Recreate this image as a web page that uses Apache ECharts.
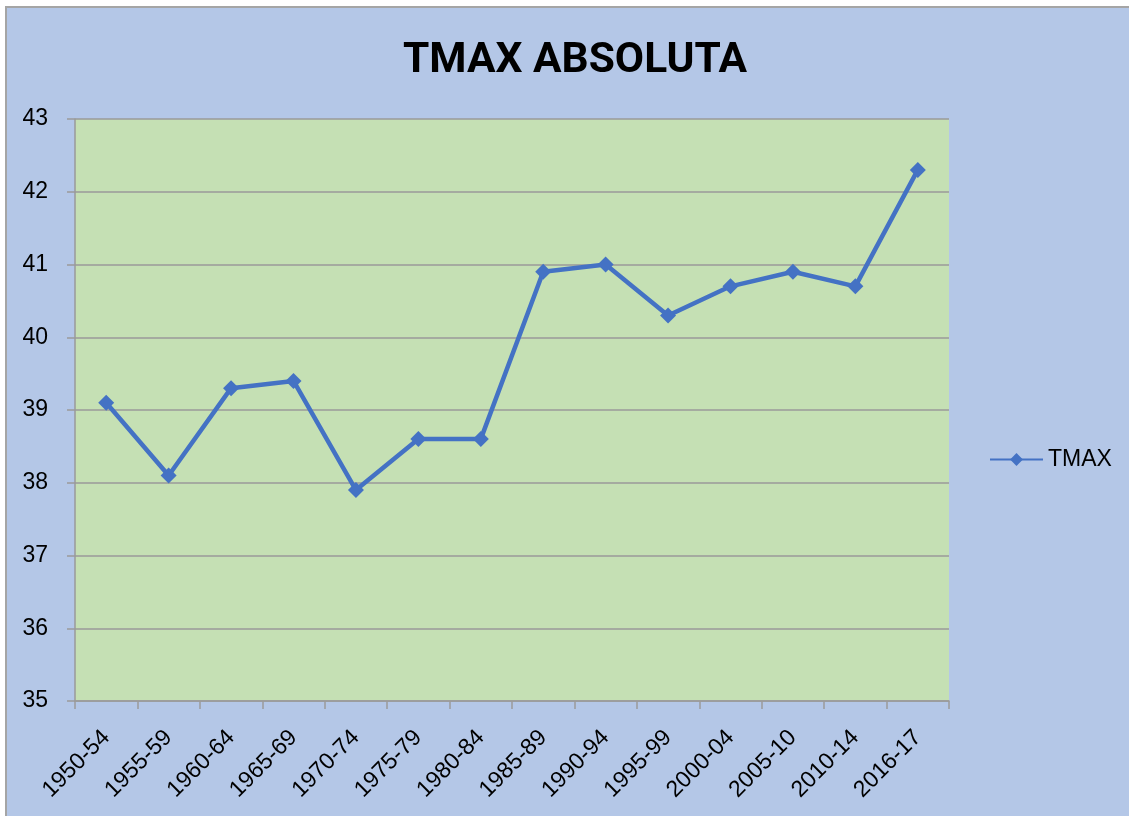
<!DOCTYPE html>
<html>
<head>
<meta charset="utf-8">
<title>TMAX ABSOLUTA</title>
<script src="https://cdn.jsdelivr.net/npm/echarts@6/dist/echarts.min.js"></script>
<style>
  html, body { margin: 0; padding: 0; background: #ffffff; }
  .frame {
    position: absolute; left: 5px; top: 6px; width: 1130px; height: 820px;
    background: #b4c7e7; border-top: 2px solid #a5a5a5; border-left: 2px solid #a5a5a5;
  }
  #chart { position: absolute; left: 0; top: 0; width: 1129px; height: 816px; }
</style>
</head>
<body>
<div class="frame"></div>
<div id="chart"></div>
<script>
// periodos (eje x)
const periods = ["1950-54", "1955-59", "1960-64", "1965-69", "1970-74", "1975-79", "1980-84",
  "1985-89", "1990-94", "1995-99", "2000-04", "2005-10", "2010-14", "2016-17"];
// temperatura máxima absoluta
const tmax = [39.1, 38.1, 39.3, 39.4, 37.9, 38.6, 38.6, 40.9, 41.0, 40.3, 40.7, 40.9, 40.7, 42.3];
// escala del eje y
const yMin = 35;
const yMax = 43;
const yStep = 1;

const font = "'Liberation Sans', Arial, sans-serif";
const chart = echarts.init(document.getElementById("chart"));

const option = {
  backgroundColor: "transparent",
  animation: false,
  title: {
    text: "TMAX ABSOLUTA",
    left: 398,
    top: 35,
    textStyle: { fontFamily: "Roboto, sans-serif", fontWeight: "bold", fontSize: 42.5, color: "#000000" }
  },
  legend: {
    data: ["TMAX"],
    orient: "vertical",
    left: 984,
    top: 443,
    itemWidth: 53,
    itemHeight: 16,
    itemGap: 6,
    textStyle: { fontFamily: font, fontSize: 23, color: "#000000" }
  },
  grid: {
    left: 75,
    top: 119,
    right: 180,
    bottom: 115,
    show: true,
    backgroundColor: "#c5e0b4",
    borderWidth: 0
  },
  xAxis: {
    type: "category",
    data: periods,
    boundaryGap: true,
    axisLine: { show: true, lineStyle: { color: "#9a9a9a", width: 1.5 } },
    axisTick: { show: true, alignWithLabel: false, length: 8, lineStyle: { color: "#9a9a9a", width: 1.5 } },
    axisLabel: {
      rotate: 45,
      margin: 33,
      interval: 0,
      fontFamily: font,
      fontSize: 23,
      color: "#000000"
    }
  },
  yAxis: {
    type: "value",
    min: yMin,
    max: yMax,
    interval: yStep,
    axisLine: { show: true, lineStyle: { color: "#9a9a9a", width: 1.5 } },
    axisTick: { show: true, length: 8, lineStyle: { color: "#9a9a9a", width: 1.5 } },
    splitLine: { show: true, lineStyle: { color: "#9a9a9a", width: 1.5 } },
    axisLabel: { margin: 27, fontFamily: font, fontSize: 23, color: "#000000" }
  },
  series: [
    {
      name: "TMAX",
      type: "line",
      data: tmax,
      symbol: "diamond",
      symbolSize: 16,
      showAllSymbol: true,
      lineStyle: { color: "#4472c4", width: 4.5 },
      itemStyle: { color: "#4472c4" }
    }
  ]
};

chart.setOption(option);
</script>
</body>
</html>
